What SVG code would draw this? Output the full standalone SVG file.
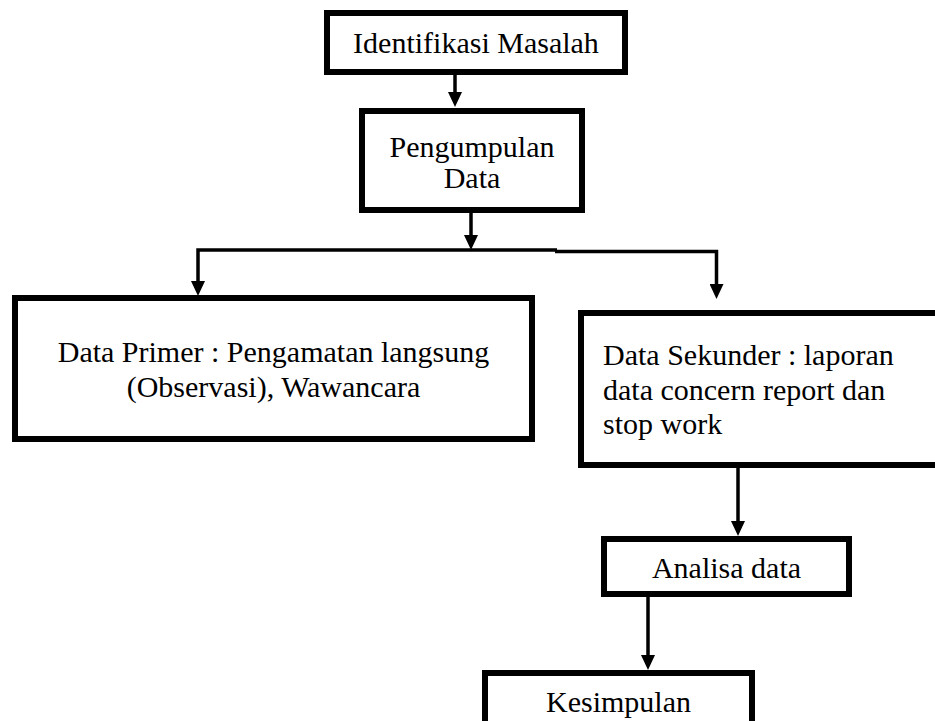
<svg xmlns="http://www.w3.org/2000/svg" width="935" height="721" viewBox="0 0 935 721">
  <style>
    .box { fill: #ffffff; stroke: #000000; stroke-width: 6; }
    .lbl { font-family: "Liberation Serif", "Times New Roman", serif; font-size: 30px; fill: #000000; }
    .mid { text-anchor: middle; }
    .conn { fill: none; stroke: #000000; stroke-width: 3.5; }
  </style>
  <defs>
    <marker id="arrow" viewBox="0 0 15 14" refX="7" refY="7" markerWidth="15" markerHeight="14" markerUnits="userSpaceOnUse" orient="auto">
      <path d="M0,0 L15,7 L0,14 Z" fill="#000000"/>
    </marker>
  </defs>
  <rect width="935" height="721" fill="#ffffff"/>

  <g id="connectors">
    <line class="conn" x1="455" y1="75" x2="455" y2="99" marker-end="url(#arrow)"/>
    <line class="conn" x1="471" y1="213" x2="471" y2="242" marker-end="url(#arrow)"/>
    <path class="conn" d="M557,250 H198 V288" marker-end="url(#arrow)"/>
    <path class="conn" d="M555,251.5 H716.5 V291" marker-end="url(#arrow)"/>
    <line class="conn" x1="738" y1="468" x2="738" y2="528" marker-end="url(#arrow)"/>
    <line class="conn" x1="648" y1="597" x2="648" y2="662" marker-end="url(#arrow)"/>
  </g>

  <g id="node-identifikasi">
    <rect class="box" x="327" y="13" width="298" height="59"/>
    <text class="lbl mid" x="476" y="53">Identifikasi Masalah</text>
  </g>

  <g id="node-pengumpulan">
    <rect class="box" x="362" y="111" width="220" height="99"/>
    <text class="lbl mid" x="472" y="157">Pengumpulan</text>
    <text class="lbl mid" x="472" y="188">Data</text>
  </g>

  <g id="node-primer">
    <rect class="box" x="15" y="298" width="517" height="141"/>
    <text class="lbl mid" x="273.5" y="362">Data Primer : Pengamatan langsung</text>
    <text class="lbl mid" x="273.5" y="397">(Observasi), Wawancara</text>
  </g>

  <g id="node-sekunder">
    <rect class="box" x="581" y="313" width="400" height="152"/>
    <text class="lbl" x="603" y="365">Data Sekunder : laporan</text>
    <text class="lbl" x="603" y="400">data concern report dan</text>
    <text class="lbl" x="603" y="434">stop work</text>
  </g>

  <g id="node-analisa">
    <rect class="box" x="604" y="539" width="245" height="55"/>
    <text class="lbl mid" x="726.5" y="578">Analisa data</text>
  </g>

  <g id="node-kesimpulan">
    <rect class="box" x="485" y="673" width="267" height="80"/>
    <text class="lbl mid" x="618.5" y="712">Kesimpulan</text>
  </g>
</svg>
